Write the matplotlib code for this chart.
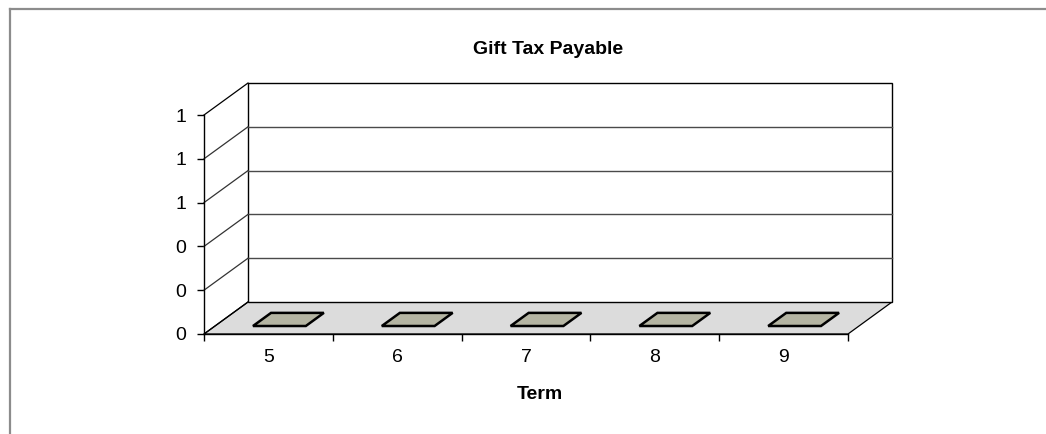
import numpy as np
import matplotlib.pyplot as plt
from matplotlib.lines import Line2D
from matplotlib.patches import Polygon
from matplotlib.ticker import FormatStrFormatter

plt.rcParams['font.family'] = ['Liberation Sans', 'DejaVu Sans']

# data
terms = ['5', '6', '7', '8', '9']
gift_tax = [0, 0, 0, 0, 0]
y_ticks = [0, 0.2, 0.4, 0.6, 0.8, 1.0]

titulo = 'Gift Tax Payable'
x_titulo = 'Term'

# 3d look (excel style)
DX = 44 / 128.8      # depth offset in category slots
DY = 32 / 219        # depth offset in value units
prof_ini, prof_fin = 0.25, 0.66   # depth range of the bars
ancho = 0.41                       # bar width in slots

color_piso = '#dcdcdc'
color_barra = '#b5b5a3'
color_grid = '#4a4a4a'

fig = plt.figure(figsize=(10.46, 4.34), dpi=100)
ax = fig.add_axes([204 / 1046, 100 / 434, 644 / 1046, 219 / 434])
n = len(terms)
ax.set_xlim(0, n)
ax.set_ylim(0, 1)
ax.patch.set_visible(False)
for s in ['top', 'right']:
    ax.spines[s].set_visible(False)
ax.spines['left'].set_linewidth(1.0)
ax.spines['bottom'].set_linewidth(1.0)
ax.spines['left'].set_zorder(5)
ax.spines['bottom'].set_zorder(5)

# floor
ax.add_patch(Polygon([(0, 0), (n, 0), (n + DX, DY), (DX, DY)], closed=True,
                     facecolor=color_piso, edgecolor='black', lw=0.9, zorder=1, clip_on=False))
# back wall
ax.add_patch(Polygon([(DX, DY), (n + DX, DY), (n + DX, 1 + DY), (DX, 1 + DY)], closed=True,
                     facecolor='white', edgecolor='black', lw=1.0, zorder=1, clip_on=False))
# gridlines on back wall and side wall
for v in y_ticks:
    if 0 < v < 1:
        ax.plot([DX, n + DX], [v + DY, v + DY], color=color_grid, lw=1.0, zorder=2, clip_on=False)
    c = 'black' if v in (0, 1.0) else '#333333'
    ax.plot([0, DX], [v, v + DY], color=c, lw=0.9, zorder=2, clip_on=False)

# bars (zero height -> only the top face shows)
for i, val in enumerate(gift_tax):
    x0 = i + 0.5 - ancho / 2
    x1 = i + 0.5 + ancho / 2
    f0 = (x0 + prof_ini * DX, val + prof_ini * DY)
    f1 = (x1 + prof_ini * DX, val + prof_ini * DY)
    b1 = (x1 + prof_fin * DX, val + prof_fin * DY)
    b0 = (x0 + prof_fin * DX, val + prof_fin * DY)
    if val > 0:
        ax.add_patch(Polygon([(f0[0], prof_ini * DY), (f1[0], prof_ini * DY), f1, f0], closed=True,
                             facecolor=color_barra, edgecolor='black', lw=1.8, zorder=3, clip_on=False))
    ax.add_patch(Polygon([f0, f1, b1, b0], closed=True, facecolor=color_barra,
                         edgecolor='black', lw=1.8, zorder=4, clip_on=False))

# axes ticks
ax.set_yticks(y_ticks)
ax.yaxis.set_major_formatter(FormatStrFormatter('%.0f'))
ax.tick_params(axis='y', direction='out', length=5, width=1, pad=8, labelsize=14)
ax.set_xticks(np.arange(n + 1))
ax.set_xticklabels([])
ax.set_xticks(np.arange(n) + 0.5, minor=True)
ax.set_xticklabels(terms, minor=True)
ax.tick_params(axis='x', which='major', direction='out', length=5, width=1)
ax.tick_params(axis='x', which='minor', length=0, pad=11, labelsize=14)

fig.text(548 / 1046, 1 - 50 / 434, titulo, ha='center', va='center',
         fontsize=14, fontweight='bold')
fig.text(540 / 1046, 1 - 399 / 434, x_titulo, ha='center', va='baseline',
         fontsize=14, fontweight='bold')

# chart area border (cropped, only top and left visible)
borde = '#8c8c8c'
fig.add_artist(Line2D([9.5 / 1046, 9.5 / 1046], [0, 1 - 8.5 / 434], color=borde, lw=1.6))
fig.add_artist(Line2D([9.5 / 1046, 1], [1 - 8.5 / 434, 1 - 8.5 / 434], color=borde, lw=1.6))

fig.savefig('out.png', dpi=100, facecolor='white')
